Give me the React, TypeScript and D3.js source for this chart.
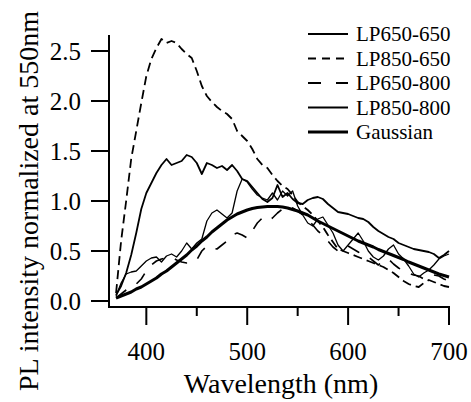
import React from "react";
import * as d3 from "d3";

const wavelengths: number[] = d3.range(370, 701, 5);

const lp650_650: number[] = [
  0.06, 0.15, 0.28, 0.46, 0.68, 0.92, 1.08, 1.18, 1.28, 1.36,
  1.42, 1.36, 1.38, 1.40, 1.46, 1.44, 1.38, 1.27, 1.38, 1.36,
  1.33, 1.35, 1.31, 1.36, 1.30, 1.22, 1.20, 1.14, 1.08, 1.02,
  0.99, 1.03, 1.16, 1.04, 1.08, 1.02, 0.98, 0.97, 1.01, 1.03,
  1.04, 1.02, 0.97, 0.93, 0.89, 0.88, 0.87, 0.85, 0.83, 0.82,
  0.79, 0.74, 0.70, 0.67, 0.64, 0.62, 0.58, 0.56, 0.54, 0.52,
  0.51, 0.50, 0.49, 0.47, 0.43, 0.46, 0.50,
];

const lp850_650: number[] = [
  0.08, 0.60, 1.00, 1.42, 1.70, 1.98, 2.25, 2.42, 2.53, 2.62,
  2.58, 2.60, 2.58, 2.52, 2.47, 2.43, 2.30, 2.15, 2.05, 1.99,
  1.94, 1.90, 1.87, 1.82, 1.70, 1.65, 1.60, 1.52, 1.42, 1.36,
  1.33, 1.26, 1.20, 1.15, 1.12, 1.06, 0.99, 0.95, 0.91, 0.86,
  0.80, 0.74, 0.66, 0.59, 0.52, 0.50, 0.48, 0.46, 0.44, 0.42,
  0.40, 0.38, 0.36, 0.34, 0.31, 0.28, 0.24, 0.20, 0.17, 0.15,
  0.14, 0.18, 0.21, 0.19, 0.17, 0.15, 0.14,
];

const lp650_800: number[] = [
  0.03, 0.07, 0.11, 0.14, 0.17, 0.22, 0.30, 0.36, 0.40, 0.42,
  0.43, 0.44, 0.41, 0.39, 0.38, 0.38, 0.41, 0.50, 0.55, 0.53,
  0.52, 0.56, 0.60, 0.66, 0.68, 0.66, 0.63, 0.70, 0.78, 0.83,
  0.80, 0.83, 0.88, 0.92, 0.95, 0.93, 0.90, 0.86, 0.82, 0.76,
  0.70, 0.66, 0.60, 0.54, 0.50, 0.52, 0.55, 0.52, 0.49, 0.46,
  0.44, 0.40, 0.36, 0.40, 0.42, 0.37, 0.33, 0.30, 0.28, 0.26,
  0.25, 0.22, 0.24, 0.26, 0.25, 0.22, 0.20,
];

const lp850_800: number[] = [
  0.05, 0.18, 0.27, 0.29, 0.30, 0.35, 0.40, 0.43, 0.44, 0.39,
  0.45, 0.47, 0.44, 0.50, 0.58, 0.52, 0.58, 0.62, 0.80, 0.88,
  0.91, 0.87, 0.83, 0.88, 1.10, 1.22, 1.19, 1.12, 1.06, 1.03,
  1.01, 1.08, 1.01, 1.10, 1.05, 1.10, 0.95, 0.86, 0.78, 0.75,
  0.82, 0.84, 0.76, 0.68, 0.56, 0.50, 0.56, 0.62, 0.68, 0.60,
  0.50, 0.44, 0.41, 0.45, 0.52, 0.56, 0.47, 0.42, 0.35, 0.27,
  0.24, 0.28, 0.31, 0.36, 0.42, 0.45, 0.47,
];

const gaussian: number[] = [
  0.03, 0.05, 0.07, 0.09, 0.12, 0.14, 0.17, 0.20, 0.23, 0.27,
  0.30, 0.34, 0.38, 0.42, 0.46, 0.51, 0.55, 0.60, 0.64, 0.69,
  0.73, 0.77, 0.81, 0.84, 0.87, 0.89, 0.91, 0.925, 0.935, 0.94,
  0.945, 0.945, 0.945, 0.94, 0.93, 0.915, 0.90, 0.88, 0.86, 0.83,
  0.80, 0.775, 0.75, 0.725, 0.70, 0.675, 0.65, 0.625, 0.60, 0.58,
  0.56, 0.54, 0.515, 0.495, 0.475, 0.455, 0.435, 0.415, 0.39, 0.37,
  0.35, 0.33, 0.31, 0.29, 0.27, 0.255, 0.24,
];

const seriesNames = ["LP650-650", "LP850-650", "LP650-800", "LP850-800", "Gaussian"];
const xMajorTicks = [400, 500, 600, 700];
const xMinorTicks = [450, 550, 650];
const yTicks = [0, 0.5, 1.0, 1.5, 2.0, 2.5];

const FONT = "Liberation Serif, DejaVu Serif, serif";

export default function App() {
  const W = 471, H = 402;
  const left = 109, right = 449, top = 35, bottom = 307;
  const x = d3.scaleLinear().domain([363, 700]).range([left, right]);
  const y = d3.scaleLinear().domain([-0.06, 2.66]).range([bottom, top]);

  const mk = (vals: number[]) =>
    d3.line<number>().x((_, i) => x(wavelengths[i])).y((v) => y(v))(vals) || "";

  const styles = [
    { data: lp650_650, width: 1.8, dash: undefined as string | undefined },
    { data: lp850_650, width: 1.8, dash: "9,5" },
    { data: lp650_800, width: 1.6, dash: "13,12" },
    { data: lp850_800, width: 1.3, dash: undefined },
    { data: gaussian, width: 3, dash: undefined },
  ];

  const legendY = [34, 58.5, 83, 107.5, 132];
  const txt = { fontFamily: FONT } as React.CSSProperties;

  return (
    <svg width={W} height={H} style={{ position: "fixed", left: 0, top: 0, background: "#fff" }}>
      <rect x={0} y={0} width={W} height={H} fill="#fff" />
      {styles.map((s, i) => (
        <path key={i} d={mk(s.data)} fill="none" stroke="#000" strokeWidth={s.width}
          strokeDasharray={s.dash} strokeLinejoin="round" />
      ))}
      <line x1={left} x2={left} y1={top} y2={bottom + 1} stroke="#000" strokeWidth={2} />
      <line x1={left - 1} x2={right + 1} y1={bottom} y2={bottom} stroke="#000" strokeWidth={2} />
      {yTicks.map((t) => (
        <g key={"y" + t}>
          <line x1={left - 18} x2={left} y1={y(t)} y2={y(t)} stroke="#000" strokeWidth={2} />
          <text x={81} y={y(t) + 8.5} textAnchor="end" style={txt} fontSize={25}>
            {t.toFixed(1)}
          </text>
        </g>
      ))}
      {xMajorTicks.map((t) => (
        <g key={"x" + t}>
          <line x1={x(t)} x2={x(t)} y1={bottom} y2={bottom + 18} stroke="#000" strokeWidth={2} />
          <text x={x(t)} y={360} textAnchor="middle" style={txt} fontSize={25}>
            {t}
          </text>
        </g>
      ))}
      {xMinorTicks.map((t) => (
        <line key={"m" + t} x1={x(t)} x2={x(t)} y1={bottom} y2={bottom + 9} stroke="#000" strokeWidth={2} />
      ))}
      <text x={281} y={393} textAnchor="middle" style={txt} fontSize={28}>
        Wavelength (nm)
      </text>
      <text transform={`translate(38,201) rotate(-90)`} textAnchor="middle" style={txt} fontSize={28}>
        PL intensity normalized at 550nm
      </text>
      {seriesNames.map((n, i) => (
        <g key={n}>
          <line x1={308} x2={348} y1={legendY[i]} y2={legendY[i]} stroke="#000"
            strokeWidth={i === 4 ? 3 : 1.8}
            strokeDasharray={i === 1 ? "8,6" : i === 2 ? "13,15" : undefined} />
          <text x={356} y={legendY[i] + 7} style={txt} fontSize={21}>{n}</text>
        </g>
      ))}
    </svg>
  );
}
